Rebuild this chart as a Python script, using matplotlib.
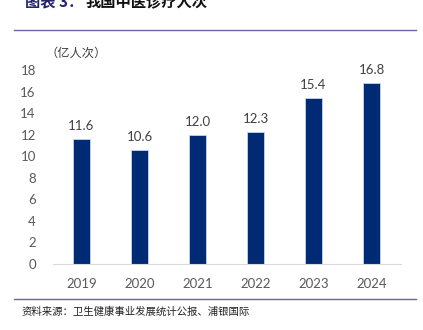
import matplotlib
matplotlib.use("Agg")
import matplotlib.pyplot as plt
from matplotlib.lines import Line2D

years = ["2019", "2020", "2021", "2022", "2023", "2024"]
visits = [11.6, 10.6, 12.0, 12.3, 15.4, 16.8]
y_ticks = [0, 2, 4, 6, 8, 10, 12, 14, 16, 18]

W, H = 423, 330
fig = plt.figure(figsize=(W / 100, H / 100), dpi=100)
fig.patch.set_facecolor("white")

cjk = ["Noto Sans CJK SC", "DejaVu Sans"]
num_font = ["Lato", "DejaVu Sans"]

ax = fig.add_axes([52.5 / W, (H - 264) / H, 348 / W, (264 - 70.4) / H])
x = list(range(len(years)))
ax.bar(x, visits, width=0.31, color="#002a74", edgecolor="#c8d4ea", linewidth=0.6)
ax.set_xlim(-0.5, len(years) - 0.5)
ax.set_ylim(0, 18)
ax.set_yticks(y_ticks)
ax.set_yticklabels([str(t) for t in y_ticks], family=num_font, fontsize=9.5, color="#595959")
ax.set_xticks(x)
ax.set_xticklabels(years, family=num_font, fontsize=9.5, color="#595959")
ax.tick_params(axis="both", length=0)
ax.tick_params(axis="y", pad=12)
ax.tick_params(axis="x", pad=10)
for side in ["top", "right", "left"]:
    ax.spines[side].set_visible(False)
ax.spines["bottom"].set_color("#d9d9d9")
ax.spines["bottom"].set_linewidth(0.8)

for xi, v in zip(x, visits):
    ax.annotate(f"{v:.1f}", (xi, v), xytext=(0, 5), textcoords="offset points",
                ha="center", va="bottom", family=num_font, fontsize=9.5, color="#404040")

# unit label
fig.text(45 / W, 1 - 53 / H, "（亿人次）", family=cjk, fontsize=8.8, color="#404040",
         ha="left", va="center")

# title
t1 = fig.text(25 / W, 1 - 1.5 / H, "图表 3：", family=cjk, fontsize=11, fontweight="bold",
              color="#23236e", ha="left", va="center")
fig.canvas.draw()
bb = t1.get_window_extent()
fig.text(bb.x1 / W + 2 / W, 1 - 1.5 / H, "我国中医诊疗人次", family=cjk, fontsize=11,
         fontweight="bold", color="#111111", ha="left", va="center")

# rules above and below the chart
for yp in (30, 299):
    fig.add_artist(Line2D([14 / W, 416 / W], [1 - yp / H, 1 - yp / H],
                          transform=fig.transFigure, color="#6b64a8", linewidth=1.0))

# source note
fig.text(22 / W, 1 - 312 / H, "资料来源：卫生健康事业发展统计公报、浦银国际", family=cjk,
         fontsize=7.5, color="#222222", ha="left", va="center")

fig.savefig("out.png", dpi=100, facecolor="white")
